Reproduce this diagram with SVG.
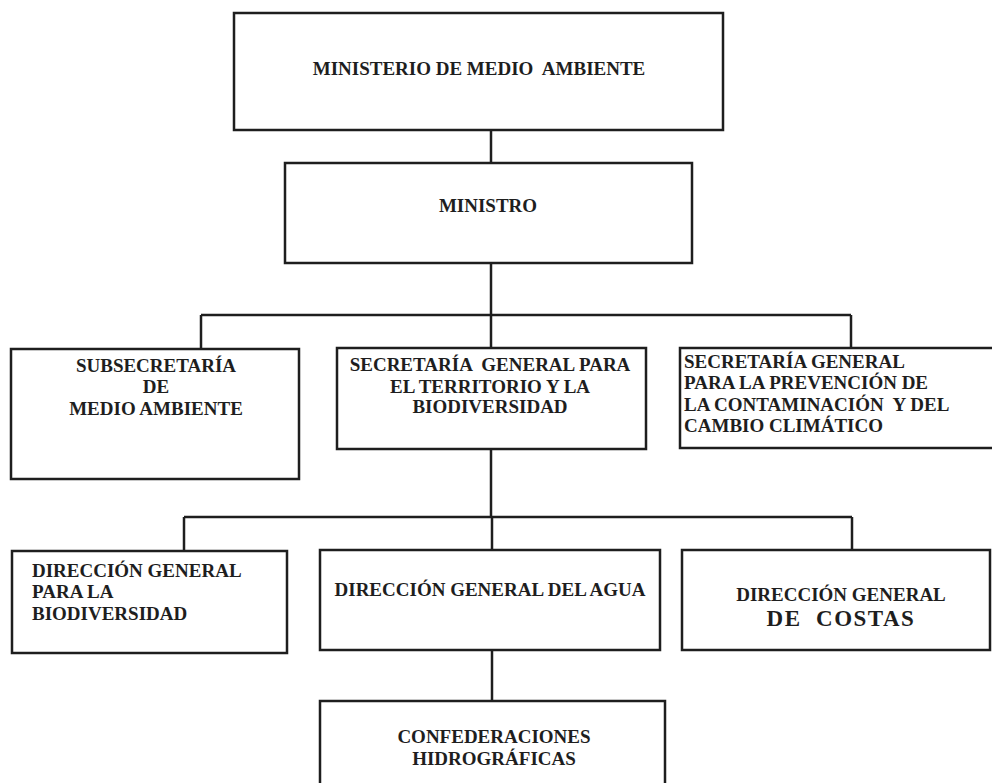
<svg xmlns="http://www.w3.org/2000/svg" width="992" height="783" viewBox="0 0 992 783">
<style>
.box{fill:#fff;stroke:#1e1e1e;stroke-width:2.5}
.ln{fill:none;stroke:#1e1e1e;stroke-width:2.5}
text{font-family:'Liberation Serif','DejaVu Serif',serif;font-weight:bold;font-size:19px;fill:#1e1e1e}
.c{text-anchor:middle}
</style>
<rect width="992" height="783" fill="#fff"/>
<g id="connectors">
<path class="ln" d="M491 130V163"/>
<path class="ln" d="M491 263V315"/>
<path class="ln" d="M201 315H851"/>
<path class="ln" d="M201 315V349"/>
<path class="ln" d="M491 315V348"/>
<path class="ln" d="M851 315V348"/>
<path class="ln" d="M491 449V517"/>
<path class="ln" d="M184 517H852"/>
<path class="ln" d="M184 517V551"/>
<path class="ln" d="M492 517V550"/>
<path class="ln" d="M852 517V550"/>
<path class="ln" d="M492 650V701"/>
</g>
<g font-family="Liberation Serif, DejaVu Serif, serif">
<g id="ministerio">
<rect class="box" x="234" y="13" width="489" height="117"/>
<text class="c" x="479" y="75" xml:space="preserve">MINISTERIO DE MEDIO  AMBIENTE</text>
</g>
<g id="ministro">
<rect class="box" x="285" y="163" width="407" height="100"/>
<text class="c" x="488" y="212">MINISTRO</text>
</g>
<g id="subsecretaria">
<rect class="box" x="11" y="349" width="288" height="130"/>
<text class="c" x="156" y="372">SUBSECRETARÍA</text>
<text class="c" x="156" y="393">DE</text>
<text class="c" x="156" y="415">MEDIO AMBIENTE</text>
</g>
<g id="sg-territorio">
<rect class="box" x="337" y="348" width="309" height="101"/>
<text class="c" x="490" y="371" xml:space="preserve">SECRETARÍA  GENERAL PARA</text>
<text class="c" x="490" y="393">EL TERRITORIO Y LA</text>
<text class="c" x="490" y="413">BIODIVERSIDAD</text>
</g>
<g id="sg-prevencion">
<rect class="box" x="680" y="348" width="330" height="100"/>
<text x="684" y="368">SECRETARÍA GENERAL</text>
<text x="684" y="389">PARA LA PREVENCIÓN DE</text>
<text x="684" y="411" xml:space="preserve">LA CONTAMINACIÓN  Y DEL</text>
<text x="684" y="432">CAMBIO CLIMÁTICO</text>
</g>
<g id="dg-biodiversidad">
<rect class="box" x="12" y="551" width="275" height="102"/>
<text x="32" y="577">DIRECCIÓN GENERAL</text>
<text x="32" y="598">PARA LA</text>
<text x="32" y="620">BIODIVERSIDAD</text>
</g>
<g id="dg-agua">
<rect class="box" x="320" y="550" width="340" height="100"/>
<text class="c" x="490" y="596">DIRECCIÓN GENERAL DEL AGUA</text>
</g>
<g id="dg-costas">
<rect class="box" x="682" y="550" width="308" height="100"/>
<text class="c" x="841" y="601">DIRECCIÓN GENERAL</text>
<text class="c" x="841" y="626" style="font-size:23px;letter-spacing:1.5px" xml:space="preserve">DE  COSTAS</text>
</g>
<g id="confederaciones">
<rect class="box" x="320" y="701" width="345" height="100"/>
<text class="c" x="494" y="743">CONFEDERACIONES</text>
<text class="c" x="494" y="765">HIDROGRÁFICAS</text>
</g>
</g>
</svg>
